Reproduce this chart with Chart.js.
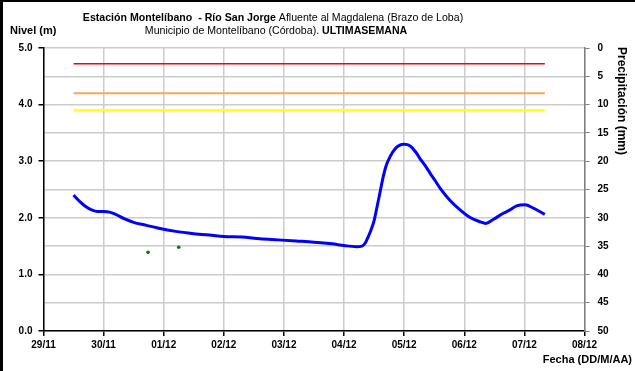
<!DOCTYPE html>
<html>
<head>
<meta charset="utf-8">
<script src="https://cdn.jsdelivr.net/npm/chart.js@4"></script>
<style>
  html, body { margin: 0; padding: 0; background: #fff; overflow: hidden; }
  canvas { display: block; }
</style>
</head>
<body>
<canvas id="nivelChart" width="635" height="371"></canvas>
<script>
// Etiquetas del eje de fechas (un tick por día desde 29/11)
const fechas = ['29/11', '30/11', '01/12', '02/12', '03/12', '04/12', '05/12', '06/12', '07/12', '08/12'];

// Nivel del río: tiempo en días desde 29/11 00:00 y nivel en metros
const dias = [0.5, 0.6, 0.7, 0.8, 0.9, 1.0, 1.1, 1.2, 1.35, 1.5, 1.7, 1.9, 2.2, 2.5, 2.8, 3.0, 3.3, 3.6, 3.9, 4.2, 4.5, 4.8, 5.0, 5.2, 5.3, 5.35,
  5.4, 5.45, 5.5, 5.55, 5.6, 5.65, 5.7, 5.77, 5.85, 5.92, 6.0, 6.1, 6.2, 6.26, 6.35, 6.43, 6.52, 6.6, 6.76, 6.93, 7.09, 7.26, 7.36,
  7.48, 7.65, 7.76, 7.87, 8.01, 8.15, 8.34];
const nivel = [2.40, 2.29, 2.20, 2.14, 2.11, 2.11, 2.10, 2.06, 1.98, 1.92, 1.87, 1.82, 1.76, 1.72, 1.69, 1.67, 1.66, 1.63, 1.61, 1.59, 1.57, 1.54, 1.51, 1.49, 1.50, 1.55,
  1.66, 1.79, 1.95, 2.20, 2.46, 2.72, 2.92, 3.09, 3.22, 3.28, 3.30, 3.27, 3.15, 3.05, 2.92, 2.79, 2.65, 2.52, 2.31, 2.14, 2.01, 1.93, 1.90,
  1.97, 2.08, 2.14, 2.21, 2.23, 2.17, 2.06];

// Lecturas sueltas (puntos verdes)
const diasLectura = [1.74, 2.25];
const nivelLectura = [1.39, 1.48];

// Umbrales de alerta (m) y su tramo horizontal
const umbralRojo = 4.72;
const umbralNaranja = 4.20;
const umbralAmarillo = 3.90;
const tramoUmbral = [0.5, 8.34];

const FONT = '"Liberation Sans", Arial, sans-serif';

function linea(valor) {
  return tramoUmbral.map(d => ({ x: d, y: valor }));
}

// Textos del encabezado, títulos de ejes y marco
const textos = {
  id: 'textos',
  afterDraw(chart) {
    const ctx = chart.ctx;
    ctx.save();
    ctx.fillStyle = '#000';
    ctx.fillRect(0, 0, 3, 371);
    ctx.fillRect(0, 0, 635, 2);

    ctx.textBaseline = 'middle';
    const renglon = (partes, cx, y) => {
      let total = 0;
      partes.forEach(p => { ctx.font = p[1] + ' 10.6px ' + FONT; total += ctx.measureText(p[0]).width; });
      let x = cx - total / 2;
      ctx.textAlign = 'left';
      partes.forEach(p => {
        ctx.font = p[1] + ' 10.6px ' + FONT;
        ctx.fillText(p[0], x, y);
        x += ctx.measureText(p[0]).width;
      });
    };
    renglon([['Estación Montelíbano  - Río San Jorge', 'bold'], [' Afluente al Magdalena (Brazo de Loba)', 'normal']], 273, 18);
    renglon([['Municipio de Montelíbano (Córdoba). ', 'normal'], ['ULTIMASEMANA', 'bold']], 276, 31);

    ctx.font = 'bold 11px ' + FONT;
    ctx.textAlign = 'left';
    ctx.fillText('Nivel (m)', 10, 31);
    ctx.textAlign = 'right';
    ctx.fillText('Fecha (DD/M/AA)', 632, 360);

    ctx.font = 'bold 12px ' + FONT;
    ctx.translate(621, 101);
    ctx.rotate(Math.PI / 2);
    ctx.textAlign = 'center';
    ctx.fillText('Precipitación (mm)', 0, 0);
    ctx.restore();
  }
};

const ctx = document.getElementById('nivelChart').getContext('2d');
new Chart(ctx, {
  type: 'line',
  data: {
    datasets: [
      {
        label: 'Rojo',
        data: linea(umbralRojo),
        borderColor: '#ff0000',
        borderWidth: 1.5,
        pointRadius: 0
      },
      {
        label: 'Naranja',
        data: linea(umbralNaranja),
        borderColor: '#f2a860',
        borderWidth: 2,
        pointRadius: 0
      },
      {
        label: 'Amarillo',
        data: linea(umbralAmarillo),
        borderColor: '#ffff00',
        borderWidth: 2,
        pointRadius: 0
      },
      {
        label: 'Lecturas',
        data: diasLectura.map((d, i) => ({ x: d, y: nivelLectura[i] })),
        showLine: false,
        pointRadius: 1.8,
        pointBackgroundColor: '#008000',
        pointBorderColor: '#008000',
        pointBorderWidth: 0
      },
      {
        label: 'Nivel',
        data: dias.map((d, i) => ({ x: d, y: nivel[i] })),
        borderColor: '#0000ff',
        borderWidth: 3,
        pointRadius: 0,
        cubicInterpolationMode: 'monotone'
      }
    ]
  },
  options: {
    responsive: false,
    animation: false,
    layout: { padding: { top: 48, left: 0, right: 0, bottom: 0 } },
    plugins: {
      legend: { display: false },
      tooltip: { enabled: false }
    },
    scales: {
      x: {
        type: 'linear',
        min: 0,
        max: 9,
        afterFit: s => { s.height = 40; },
        afterBuildTicks: s => { s.ticks = fechas.map((f, i) => ({ value: i })); },
        ticks: {
          callback: (v, i) => fechas[i],
          font: { family: FONT, size: 10, weight: 'bold' },
          color: '#000',
          padding: 3,
          maxRotation: 0,
          autoSkip: false
        },
        grid: { color: '#cccccc', lineWidth: 1.5, tickLength: 5, tickColor: '#000' },
        border: { color: '#000', width: 1.5 }
      },
      y: {
        position: 'left',
        min: 0,
        max: 5,
        afterFit: s => { s.width = 43.5; },
        ticks: {
          stepSize: 0.5,
          callback: v => Number.isInteger(v) ? v.toFixed(1) : '',
          font: { family: FONT, size: 10, weight: 'bold' },
          color: '#000',
          padding: 6,
          autoSkip: false
        },
        grid: {
          color: '#cccccc',
          lineWidth: 1.5,
          tickLength: 5,
          tickColor: c => (c.tick && Number.isInteger(c.tick.value)) ? '#000' : 'rgba(0,0,0,0)'
        },
        border: { color: '#000', width: 1.5 }
      },
      y2: {
        position: 'right',
        reverse: true,
        min: 0,
        max: 50,
        afterFit: s => { s.width = 50.5; },
        ticks: {
          stepSize: 5,
          font: { family: FONT, size: 10, weight: 'bold' },
          color: '#000',
          padding: 8
        },
        grid: { drawOnChartArea: false, tickLength: 5, tickColor: '#808080' },
        border: { color: '#808080', width: 1.5 }
      }
    }
  },
  plugins: [textos]
});
</script>
</body>
</html>
